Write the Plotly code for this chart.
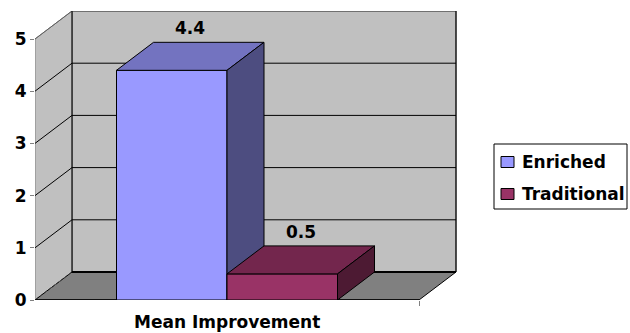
import plotly.graph_objects as go

# ---- data ----
categories = ["Mean Improvement"]
series_names = ["Enriched", "Traditional"]
series_values = [4.4, 0.5]
y_ticks = [0, 1, 2, 3, 4, 5]

# ---- styles ----
front_colors = ["#9999FF", "#993366"]
top_colors = ["#7373C0", "#73264D"]
side_colors = ["#4D4D80", "#4D1A33"]
WALL = "#C0C0C0"
FLOOR = "#808080"
FONT = "DejaVu Sans"

# ---- layout geometry (pixels) ----
W_PX, H_PX = 630, 333
ML, MR, MT, MB = 35, 173, 11, 33
PLOT_W = W_PX - ML - MR          # 422
PLOT_H = H_PX - MT - MB          # 289
PX_PER_UNIT = 52.2
YMAX_RANGE = PLOT_H / PX_PER_UNIT
FLOOR_W = 384.0                  # x units (1 unit = 1 px)
DX = 37.0                        # depth offset (px)
DY = 28.0 / PX_PER_UNIT          # depth offset (value units)
BAR_W = 110.5
YMAX = max(y_ticks)

fig = go.Figure()


def poly(xs, ys, fill, line_color="black", width=1, dash=None):
    fig.add_trace(go.Scatter(
        x=list(xs) + [xs[0]], y=list(ys) + [ys[0]],
        mode="lines", fill="toself", fillcolor=fill,
        line=dict(color=line_color, width=width, dash=dash),
        hoverinfo="skip", showlegend=False))


def seg(x0, y0, x1, y1, color="black", width=1, dash=None):
    fig.add_trace(go.Scatter(
        x=[x0, x1], y=[y0, y1], mode="lines",
        line=dict(color=color, width=width, dash=dash),
        hoverinfo="skip", showlegend=False))


# back wall
poly([DX, FLOOR_W + DX, FLOOR_W + DX, DX],
     [DY, DY, YMAX + DY, YMAX + DY], WALL, line_color="#404040")
# left wall
poly([0, DX, DX, 0], [0, DY, YMAX + DY, YMAX], WALL, line_color="#808080")
# gridlines
for v in y_ticks[1:]:
    col = "black" if v < YMAX else "#606060"
    seg(DX, v + DY, FLOOR_W + DX, v + DY, color=col)
    seg(0, v, DX, v + DY, color=col)
seg(DX, DY, DX, YMAX + DY, color="black")
seg(FLOOR_W + DX, DY, FLOOR_W + DX, YMAX + DY, color="black")
# floor
poly([0, FLOOR_W, FLOOR_W + DX, DX], [0, 0, DY, DY], FLOOR, line_color="black")
seg(0, 0, DX, DY, color="#505050", dash="dot")
seg(DX, DY, FLOOR_W + DX, DY, color="black", width=2)
seg(0, 0, FLOOR_W, 0, color="black", width=1.5)

# bars
n = len(series_values)
group_left = FLOOR_W / 2 - n * BAR_W / 2
for i, (name, v) in enumerate(zip(series_names, series_values)):
    x0 = group_left + i * BAR_W
    x1 = x0 + BAR_W
    poly([x0, x1, x1, x0], [0, 0, v, v], front_colors[i])
    poly([x0, x1, x1 + DX, x0 + DX], [v, v, v + DY, v + DY], top_colors[i])
    poly([x1, x1 + DX, x1 + DX, x1], [0, DY, v + DY, v], side_colors[i])
    fig.add_annotation(x=(x0 + x1) / 2 + DX / 2, y=v + DY, xref="x", yref="y",
                       text=f"{v:.1f}", showarrow=False, yshift=14,
                       font=dict(family=FONT, size=17, color="black", weight="bold"))

# category label
fig.add_annotation(x=FLOOR_W / 2, y=(300 - 322) / PLOT_H, xref="x", yref="paper",
                   text=categories[0], showarrow=False, yanchor="middle",
                   font=dict(family=FONT, size=17, color="black", weight="bold"))


# legend (manual, Excel style)
def px2paper(px, py):
    return (px - ML) / PLOT_W, (H_PX - MB - py) / PLOT_H


bx0, by0 = px2paper(494, 209)
bx1, by1 = px2paper(627, 144)
fig.add_shape(type="rect", xref="paper", yref="paper", x0=bx0, y0=by0, x1=bx1, y1=by1,
              line=dict(color="black", width=1), fillcolor="white")
for i, name in enumerate(series_names):
    cy = 162 + i * 32
    sx0, sy0 = px2paper(501, cy + 5.5)
    sx1, sy1 = px2paper(514, cy - 5.5)
    fig.add_shape(type="rect", xref="paper", yref="paper", x0=sx0, y0=sy0, x1=sx1, y1=sy1,
                  line=dict(color="black", width=1), fillcolor=front_colors[i])
    tx, ty = px2paper(520, cy)
    fig.add_annotation(x=tx, y=ty, xref="paper", yref="paper", text=name, showarrow=False,
                       xanchor="left", yanchor="middle",
                       font=dict(family=FONT, size=17, color="black", weight="bold"))

fig.update_layout(
    width=W_PX, height=H_PX,
    margin=dict(l=ML, r=MR, t=MT, b=MB, pad=0),
    paper_bgcolor="white", plot_bgcolor="white",
    showlegend=False,
    xaxis=dict(range=[0, PLOT_W], showgrid=False, zeroline=False, showline=False,
               tickvals=[FLOOR_W], ticks="outside", ticklen=5, tickcolor="#808080",
               showticklabels=False, fixedrange=True),
    yaxis=dict(range=[0, YMAX_RANGE], showgrid=False, zeroline=False, showline=False,
               tickvals=y_ticks, ticks="outside", ticklen=4, tickcolor="#808080",
               tickfont=dict(family=FONT, size=17, color="black", weight="bold"),
               fixedrange=True),
)

fig.write_html("out.html")
